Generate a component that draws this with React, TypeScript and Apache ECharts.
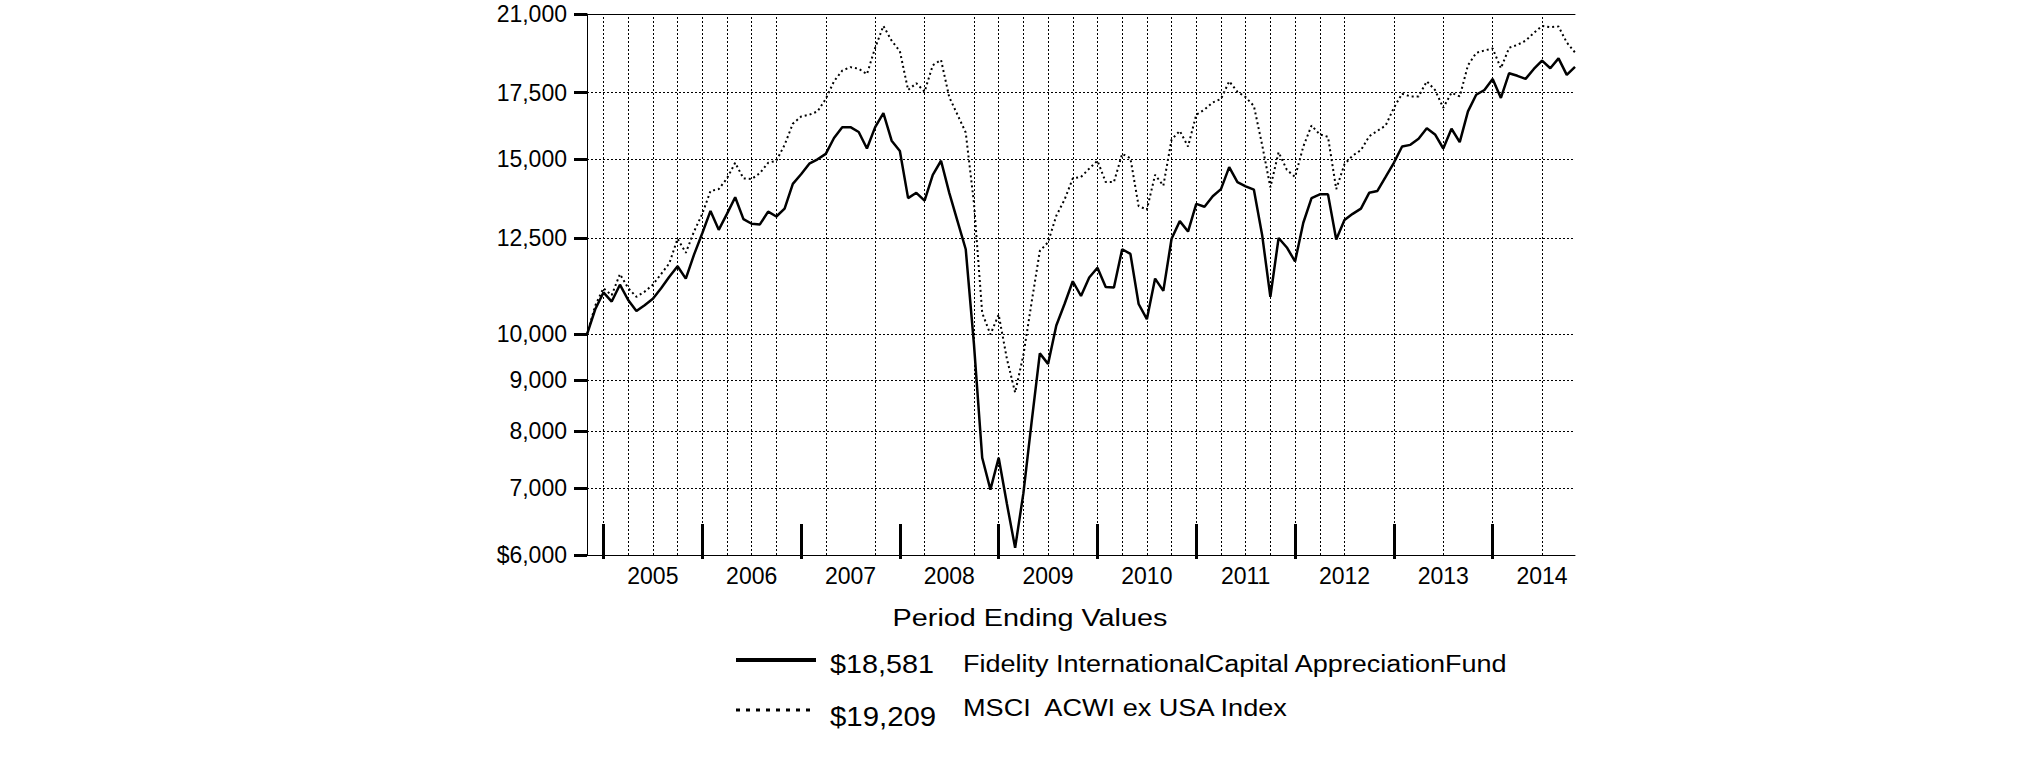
import React, { useEffect, useRef } from 'react';
import * as echarts from 'echarts';

const MONTH_NAMES = ['Jan', 'Feb', 'Mar', 'Apr', 'May', 'Jun', 'Jul', 'Aug', 'Sep', 'Oct', 'Nov', 'Dec'];
const FIRST_YEAR = 2004;
const FIRST_MONTH = 9; // October
const MONTH_COUNT = 121;

const CATEGORIES: string[] = [];
for (let k = 0; k < MONTH_COUNT; k++) {
  const m = (FIRST_MONTH + k) % 12;
  const y = FIRST_YEAR + Math.floor((FIRST_MONTH + k) / 12);
  CATEGORIES.push(`${MONTH_NAMES[m]} ${y}`);
}

const FUND_NAME = 'Fidelity InternationalCapital AppreciationFund';
const INDEX_NAME = 'MSCI  ACWI ex USA Index';

const FUND = [
  10000, 10600, 11020, 10790, 11220, 10830, 10555, 10700, 10860, 11130, 11430, 11710,
  11380, 12030, 12640, 13310, 12740, 13220, 13740, 13060, 12920, 12900, 13290, 13140,
  13380, 14170, 14490, 14850, 15000, 15190, 15760, 16160, 16160, 15980, 15380, 16160,
  16690, 15660, 15290, 13710, 13880, 13630, 14470, 14950, 13880, 13000, 12180, 9770,
  7515, 6980, 7515, 6755, 6100, 6920, 8160, 9570, 9340, 10210, 10730, 11310,
  10930, 11410, 11670, 11160, 11150, 12180, 12050, 10730, 10360, 11380, 11060, 12480,
  13000, 12690, 13530, 13440, 13770, 14000, 14730, 14230, 14090, 13980, 12590, 10910,
  12500, 12230, 11840, 12950, 13710, 13830, 13830, 12460, 13030, 13220, 13380, 13880,
  13940, 14400, 14880, 15450, 15510, 15730, 16120, 15890, 15380, 16100, 15610, 16760,
  17420, 17610, 18070, 17290, 18310, 18200, 18070, 18490, 18850, 18520, 18950, 18240,
  18581,
];

const INDEX = [
  10000, 10690, 11130, 10950, 11500, 11130, 10910, 11040, 11220, 11500, 11790, 12480,
  12080, 12690, 13220, 13940, 14000, 14350, 14880, 14350, 14330, 14530, 14880, 14950,
  15510, 16290, 16560, 16630, 16760, 17250, 17970, 18420, 18570, 18500, 18270, 19420,
  20430, 19740, 19270, 17610, 17890, 17540, 18650, 18880, 17320, 16630, 15960, 13550,
  10510, 10000, 10470, 9450, 8740, 9530, 10770, 12130, 12380, 13160, 13660, 14350,
  14400, 14680, 14950, 14230, 14230, 15190, 15040, 13460, 13350, 14470, 14110, 15700,
  16020, 15450, 16630, 16830, 17110, 17250, 17970, 17540, 17320, 16970, 15510, 14060,
  15250, 14640, 14400, 15450, 16220, 15890, 15800, 14000, 14830, 15130, 15320, 15820,
  16020, 16220, 16900, 17460, 17350, 17350, 17970, 17610, 16900, 17500, 17350, 18650,
  19190, 19300, 19390, 18520, 19420, 19550, 19740, 20100, 20430, 20370, 20400, 19660,
  19209,
];

const Y_TICKS = [6000, 7000, 8000, 9000, 10000, 12500, 15000, 17500, 21000];
const Y_TICK_LABELS = ['$6,000', '7,000', '8,000', '9,000', '10,000', '12,500', '15,000', '17,500', '21,000'];

const YEAR_LABEL_MONTH = 'Jun';
const MAJOR_TICK_MONTH = 'Dec';
const VERTICAL_GRID_AT = [
  'Dec 2004', 'Mar 2005', 'Jun 2005', 'Sep 2005', 'Dec 2005', 'Mar 2006', 'Jun 2006', 'Sep 2006',
  'Mar 2007', 'Sep 2007', 'Mar 2008', 'Sep 2008', 'Dec 2008', 'Mar 2009', 'Jun 2009', 'Sep 2009',
  'Dec 2009', 'Mar 2010', 'Jun 2010', 'Sep 2010', 'Dec 2010', 'Mar 2011', 'Jun 2011', 'Sep 2011',
  'Dec 2011', 'Mar 2012', 'Jun 2012', 'Dec 2012', 'Jun 2013', 'Dec 2013', 'Jun 2014',
];

const FONT = "'Liberation Sans', Arial, Helvetica, sans-serif";
const lg = (v: number) => Math.log10(v);
const money = (v: number) => '$' + Math.round(v).toLocaleString('en-US');

export default function App() {
  const ref = useRef<HTMLDivElement>(null);

  useEffect(() => {
    if (!ref.current) return;
    const chart = echarts.init(ref.current, undefined, { renderer: 'svg' });
    const tickVals = Y_TICKS.map(lg);
    const isMajor = (_i: number, v: string) => String(v).startsWith(MAJOR_TICK_MONTH);

    const option: any = {
      animation: false,
      backgroundColor: '#fff',
      grid: { left: 587, right: 450, top: 14, bottom: 206, containLabel: false },
      xAxis: [
        {
          type: 'category',
          data: CATEGORIES,
          boundaryGap: false,
          position: 'bottom',
          axisLine: { show: true, onZero: false, lineStyle: { color: '#000', width: 1 } },
          axisTick: {
            show: true,
            inside: true,
            length: 31,
            interval: isMajor,
            lineStyle: { color: '#000', width: 3 },
          },
          axisLabel: {
            interval: (_i: number, v: string) => String(v).startsWith(YEAR_LABEL_MONTH),
            formatter: (v: string) => String(v).slice(4),
            margin: 9,
            color: '#000',
            fontSize: 23,
            fontFamily: FONT,
          },
          splitLine: { show: false },
        },
        {
          type: 'category',
          data: CATEGORIES,
          boundaryGap: false,
          position: 'top',
          axisLine: { show: true, onZero: false, lineStyle: { color: '#000', width: 1 } },
          axisTick: { show: false },
          axisLabel: { show: false },
          splitLine: { show: false },
        },
        {
          type: 'category',
          data: CATEGORIES,
          boundaryGap: false,
          position: 'bottom',
          axisLine: { show: false, onZero: false },
          axisTick: {
            show: true,
            inside: false,
            length: 4,
            interval: isMajor,
            lineStyle: { color: '#000', width: 3 },
          },
          axisLabel: { show: false },
          splitLine: { show: false },
        },
      ],
      yAxis: {
        type: 'value',
        min: lg(6000),
        max: lg(21000),
        axisLine: { show: true, lineStyle: { color: '#000', width: 1 } },
        axisTick: { show: true, customValues: tickVals, length: 13, lineStyle: { color: '#000', width: 3 } },
        axisLabel: {
          customValues: tickVals,
          formatter: (v: number) => {
            const k = tickVals.findIndex((t) => Math.abs(t - v) < 1e-6);
            return k >= 0 ? Y_TICK_LABELS[k] : '';
          },
          margin: 20,
          color: '#000',
          fontSize: 23,
          fontFamily: FONT,
        },
        splitLine: { show: true, lineStyle: { color: '#000', width: 1, type: [2, 2] } },
      },
      series: [
        {
          name: INDEX_NAME,
          type: 'line',
          data: INDEX.map(lg),
          showSymbol: false,
          symbol: 'none',
          silent: true,
          lineStyle: { color: '#000', width: 2, type: [2, 3] },
          z: 3,
          markLine: {
            silent: true,
            symbol: ['none', 'none'],
            label: { show: false },
            lineStyle: { color: '#000', width: 1, type: [2, 2] },
            emphasis: { disabled: true },
            data: VERTICAL_GRID_AT.map((c) => ({ xAxis: c })),
          },
        },
        {
          name: FUND_NAME,
          type: 'line',
          data: FUND.map(lg),
          showSymbol: false,
          symbol: 'none',
          silent: true,
          lineStyle: { color: '#000', width: 2.5 },
          z: 4,
        },
      ],
      graphic: [
        {
          type: 'text', x: 1030, y: 618, scaleX: 1.2,
          style: { text: 'Period Ending Values', font: `24px ${FONT}`, fill: '#000', textAlign: 'center', textVerticalAlign: 'middle' },
        },
        { type: 'line', shape: { x1: 736, y1: 660, x2: 816, y2: 660 }, style: { stroke: '#000', lineWidth: 4 } },
        {
          type: 'text', x: 830, y: 665, scaleX: 1.15,
          style: { text: money(FUND[FUND.length - 1]), font: `25px ${FONT}`, fill: '#000', textAlign: 'left', textVerticalAlign: 'middle' },
        },
        {
          type: 'text', x: 963, y: 664, scaleX: 1.175,
          style: { text: FUND_NAME, font: `23px ${FONT}`, fill: '#000', textAlign: 'left', textVerticalAlign: 'middle' },
        },
        { type: 'line', shape: { x1: 736, y1: 710, x2: 816, y2: 710 }, style: { stroke: '#000', lineWidth: 3, lineDash: [4, 6] } },
        {
          type: 'text', x: 830, y: 716, scaleX: 1.05,
          style: { text: money(INDEX[INDEX.length - 1]), font: `28px ${FONT}`, fill: '#000', textAlign: 'left', textVerticalAlign: 'middle' },
        },
        {
          type: 'text', x: 963, y: 708, scaleX: 1.13,
          style: { text: INDEX_NAME, font: `24px ${FONT}`, fill: '#000', textAlign: 'left', textVerticalAlign: 'middle' },
        },
      ],
    };

    chart.setOption(option);
    return () => chart.dispose();
  }, []);

  return <div ref={ref} style={{ position: 'fixed', left: 0, top: 0, width: 2025, height: 761, background: '#fff' }} />;
}
